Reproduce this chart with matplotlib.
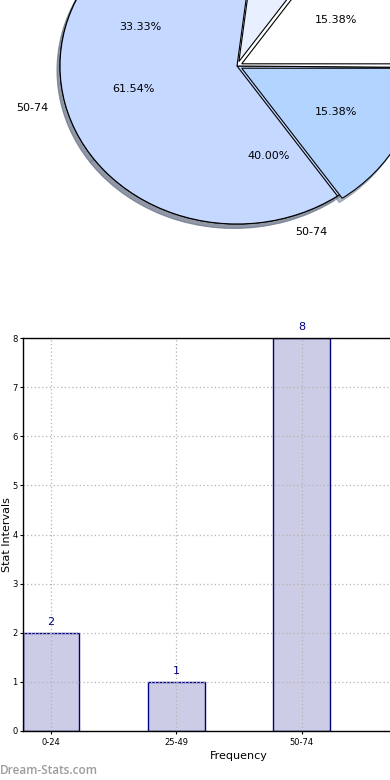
import numpy as np
import matplotlib
matplotlib.use("Agg")
import matplotlib.pyplot as plt

# bar data
categories = ["0-24", "25-49", "50-74"]
counts = [2, 1, 8]

# front pie (percent labels 15.38 / 15.38 / 7.69 / 61.54)
front_vals = [2, 2, 1, 8]
front_labels = ["", "", "", "50-74"]
front_colors = ["#b3d4ff", "#ffffff", "#e8f0ff", "#c5d8ff"]
front_explode = [0.03, 0.03, 0.03, 0.0]

# back pie, mostly hidden (33.33 / 40.00 / 26.67)
back_vals = [5, 6, 4]
back_labels = ["", "50-74", ""]
back_colors = ["#c5d8ff", "#c5d8ff", "#ffffff"]

fig = plt.figure(figsize=(3.9, 7.8), dpi=100)

###############################################################
##                pie (partly outside the figure)
###############################################################
W, H = 390.0, 780.0
cx, cy = 237.0, 66.0
rx, ry = 177.0, 158.0
axp = fig.add_axes([(cx - rx) / W, 1 - (cy + ry) / H, 2 * rx / W, 2 * ry / H])

def pct_min(lo):
    # slices whose label sits off the canvas get no text
    return lambda p: "%.2f%%" % p if p > lo else ""

wedge_kw = dict(edgecolor="black", linewidth=0.8)
shadow_kw = dict(ox=-0.012, oy=-0.02, shade=0.45)
axp.pie(back_vals, labels=back_labels, colors=back_colors, autopct=pct_min(30),
        startangle=95.5, shadow=shadow_kw, pctdistance=0.6, labeldistance=1.1,
        wedgeprops=wedge_kw, textprops=dict(fontsize=8))
axp.pie(front_vals, labels=front_labels, colors=front_colors, autopct=pct_min(10),
        startangle=-55.4, explode=front_explode, shadow=shadow_kw, pctdistance=0.6,
        labeldistance=1.1, wedgeprops=wedge_kw, textprops=dict(fontsize=8))
axp.set_aspect("auto")
axp.set_xlim(-1, 1)
axp.set_ylim(-1, 1)
axp.axis("off")

###############################################################
##                bar chart
###############################################################
left, right, top, bottom = 23.0, 455.0, 338.0, 731.0
ax = fig.add_axes([left / W, 1 - bottom / H, (right - left) / W, (bottom - top) / H])

x = np.arange(len(categories))
width = 0.45
bars = ax.bar(x, counts, width, color="#ccccE6", edgecolor="#000080", linewidth=1)
for b, c in zip(bars, counts):
    ax.text(b.get_x() + b.get_width() / 2, c + 0.12, str(c), ha="center", va="bottom",
            color="#000080", fontsize=8)

ax.set_xlim(-width / 2, 3.225)
ax.set_ylim(0, 8)
ax.set_xticks(x)
ax.set_xticklabels(categories, fontsize=6)
ax.set_yticks(range(9))
ax.tick_params(axis="y", labelsize=6, length=2, pad=2)
ax.tick_params(axis="x", length=2, pad=3)
ax.grid(True, linestyle=(0, (1, 2)), color="#b4b4b4", linewidth=0.9)
ax.set_axisbelow(False)
for s in ax.spines.values():
    s.set_linewidth(1)
    s.set_zorder(5)
ax.set_xlabel("Frequency", fontsize=8, labelpad=3)
ax.set_ylabel("Stat Intervals", fontsize=8)
ax.yaxis.set_label_coords(-11.0 / (right - left), 0.5)

fig.text(0.0, 1 - 770 / H, "Dream-Stats.com", fontsize=8.5, color="#9c9c9c",
         family="Open Sans", weight="semibold", va="center", ha="left")

fig.savefig("out.png", dpi=100)
